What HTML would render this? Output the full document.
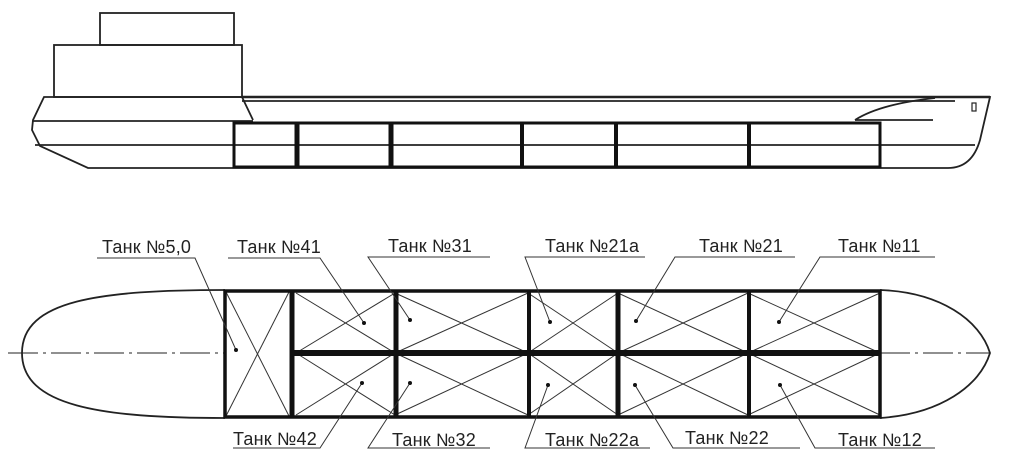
<!DOCTYPE html>
<html><head><meta charset="utf-8"><style>
html,body{margin:0;padding:0;background:#fff;}
svg{display:block;}
text{font-family:"Liberation Sans","DejaVu Sans",sans-serif;font-size:18px;fill:#222;letter-spacing:0.2px;}
</style></head><body>
<svg width="1009" height="461" viewBox="0 0 1009 461" xmlns="http://www.w3.org/2000/svg">
<g fill="none" stroke="#222" stroke-width="1.8">
<rect x="100" y="13" width="134" height="32"/>
<rect x="54" y="45" width="188" height="52"/>
<path d="M44 97 L990 97 L980 140 Q972 168 948 168 L88 168 L40 146 L32 130 L33 120 Z"/>
<line x1="242" y1="97" x2="990" y2="97" stroke-width="2.5"/>
<line x1="242" y1="101" x2="955" y2="101"/>
<line x1="242" y1="97" x2="253" y2="120"/>
<line x1="33" y1="121" x2="253" y2="121"/>
<line x1="35" y1="145" x2="975" y2="145"/>
<line x1="855" y1="120" x2="933" y2="120"/>
<path d="M855 120 Q880 104 935 98"/>
<rect x="972" y="103" width="4" height="8" stroke-width="1.2"/>
</g>
<g fill="none" stroke="#111" stroke-width="3">
<rect x="234" y="123" width="646" height="44"/>
</g>
<g stroke="#111">
<line x1="234" y1="122" x2="234" y2="168" stroke-width="3"/>
<line x1="297" y1="122" x2="297" y2="168" stroke-width="5"/>
<line x1="391" y1="122" x2="391" y2="168" stroke-width="5"/>
<line x1="522" y1="122" x2="522" y2="168" stroke-width="4"/>
<line x1="616" y1="122" x2="616" y2="168" stroke-width="4"/>
<line x1="749" y1="122" x2="749" y2="168" stroke-width="4"/>
</g>

<g fill="none" stroke="#222" stroke-width="1.8">
<path d="M225 290 C100 290 22 300 22 353 C22 406 100 418 225 418"/>
<path d="M880 290 C940 292 980 320 990 353 C980 386 940 414 880 418"/>
<line x1="8" y1="353" x2="225" y2="353" stroke-width="1" stroke-dasharray="30 5 3 5"/>
<line x1="880" y1="353" x2="990" y2="353" stroke-width="1" stroke-dasharray="30 5 3 5"/>
</g>
<g stroke="#333" stroke-width="1">
<line x1="225" y1="290" x2="290" y2="418"/><line x1="290" y1="290" x2="225" y2="418"/>
<line x1="296" y1="293" x2="395" y2="353"/><line x1="395" y1="293" x2="296" y2="353"/>
<line x1="296" y1="353" x2="395" y2="415"/><line x1="395" y1="353" x2="296" y2="415"/>
<line x1="395" y1="293" x2="528" y2="353"/><line x1="528" y1="293" x2="395" y2="353"/>
<line x1="395" y1="353" x2="528" y2="415"/><line x1="528" y1="353" x2="395" y2="415"/>
<line x1="528" y1="293" x2="618" y2="353"/><line x1="618" y1="293" x2="528" y2="353"/>
<line x1="528" y1="353" x2="618" y2="415"/><line x1="618" y1="353" x2="528" y2="415"/>
<line x1="618" y1="293" x2="748" y2="353"/><line x1="748" y1="293" x2="618" y2="353"/>
<line x1="618" y1="353" x2="748" y2="415"/><line x1="748" y1="353" x2="618" y2="415"/>
<line x1="748" y1="293" x2="880" y2="353"/><line x1="880" y1="293" x2="748" y2="353"/>
<line x1="748" y1="353" x2="880" y2="415"/><line x1="880" y1="353" x2="748" y2="415"/>
</g>
<g stroke="#111">
<rect x="225" y="291" width="655" height="126" fill="none" stroke-width="3.5"/>
<line x1="225" y1="290" x2="225" y2="418" stroke-width="2"/>
<line x1="292" y1="290" x2="292" y2="418" stroke-width="5"/>
<line x1="396" y1="290" x2="396" y2="418" stroke-width="5"/>
<line x1="529" y1="290" x2="529" y2="418" stroke-width="4"/>
<line x1="618" y1="290" x2="618" y2="418" stroke-width="5"/>
<line x1="749" y1="290" x2="749" y2="418" stroke-width="4"/>
<line x1="294" y1="353" x2="880" y2="353" stroke-width="6"/>
</g>
<g stroke="#333" stroke-width="1" fill="none">
<polyline points="97,258 195,258 236,350"/>
<polyline points="228,258 320,258 364,323"/>
<polyline points="490,257 368,257 410,320"/>
<polyline points="645,257 525,257 550,322"/>
<polyline points="795,257 675,257 636,321"/>
<polyline points="935,257 820,257 779,322"/>
<polyline points="233,448 320,448 362,383"/>
<polyline points="490,448 368,448 410,383"/>
<polyline points="650,448 525,448 548,385"/>
<polyline points="800,448 673,448 635,385"/>
<polyline points="935,448 815,448 780,385"/>
</g>
<g fill="#111">
<circle cx="236" cy="350" r="2"/><circle cx="364" cy="323" r="2"/><circle cx="410" cy="320" r="2"/>
<circle cx="550" cy="322" r="2"/><circle cx="636" cy="321" r="2"/><circle cx="779" cy="322" r="2"/>
<circle cx="362" cy="383" r="2"/><circle cx="410" cy="383" r="2"/><circle cx="548" cy="385" r="2"/>
<circle cx="635" cy="385" r="2"/><circle cx="780" cy="385" r="2"/>
</g>
<g>
<text x="102" y="253">Танк №5,0</text>
<text x="237" y="253">Танк №41</text>
<text x="388" y="252">Танк №31</text>
<text x="545" y="252">Танк №21а</text>
<text x="699" y="252">Танк №21</text>
<text x="838" y="252">Танк №11</text>
<text x="233" y="445">Танк №42</text>
<text x="392" y="446">Танк №32</text>
<text x="545" y="446">Танк №22а</text>
<text x="685" y="444">Танк №22</text>
<text x="838" y="446">Танк №12</text>
</g>
</svg>
</body></html>
